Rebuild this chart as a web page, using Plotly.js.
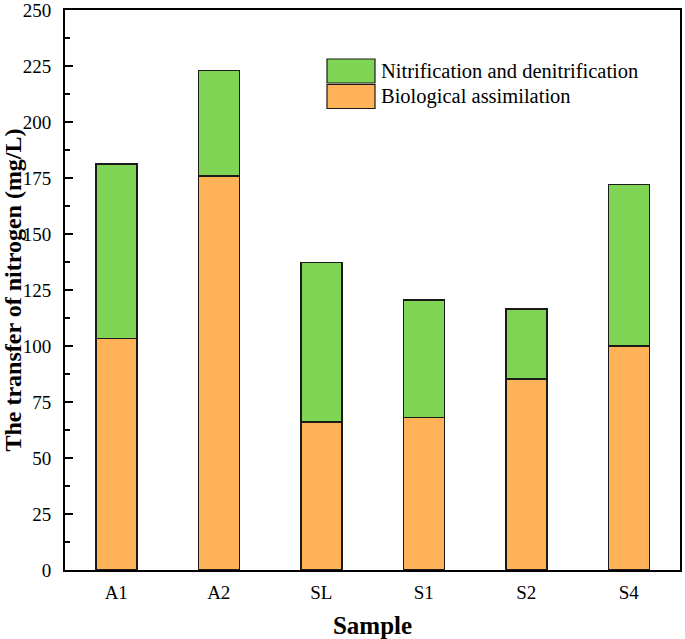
<!DOCTYPE html>
<html>
<head>
<meta charset="utf-8">
<script src="https://cdn.plot.ly/plotly-3.0.1.min.js"></script>
<style>html,body{margin:0;padding:0;background:#fff;}#chart{width:685px;height:639px;}</style>
</head>
<body>
<div id="chart"></div>
<script>
var categories = ["A1", "A2", "SL", "S1", "S2", "S4"];
var biologicalAssimilation = [103.3, 175.8, 66.0, 68.0, 85.3, 100.0];
var nitrificationDenitrification = [77.9, 47.2, 71.3, 52.6, 31.3, 72.0];
var seriesNames = ["Nitrification and denitrification", "Biological assimilation"];
var yTickValues = [0, 25, 50, 75, 100, 125, 150, 175, 200, 225, 250];

var green = "#80D453";
var orange = "#FFB257";
var font = "Liberation Serif, Times New Roman, serif";

var traces = [
  {type: "bar", name: seriesNames[1], x: categories, y: biologicalAssimilation,
   marker: {color: orange, line: {color: "#1a1a1a", width: 1.5}}, width: 0.4, showlegend: false},
  {type: "bar", name: seriesNames[0], x: categories, y: nitrificationDenitrification,
   marker: {color: green, line: {color: "#1a1a1a", width: 1.5}}, width: 0.4, showlegend: false}
];

var W = 685, H = 639;
var M = {l: 65, r: 5, t: 10, b: 69};
var PW = W - M.l - M.r, PH = H - M.t - M.b;

var legendItems = [
  {name: seriesNames[0], color: green},
  {name: seriesNames[1], color: orange}
];
var shapes = [], annotations = [];
legendItems.forEach(function(it, i){
  var top = 59 + i * 25.5;
  shapes.push({type: "rect", xref: "paper", yref: "paper",
    x0: (327 - M.l) / PW, x1: (375 - M.l) / PW,
    y0: 1 - (top + 24 - M.t) / PH, y1: 1 - (top - M.t) / PH,
    fillcolor: it.color, line: {color: "#1a1a1a", width: 1.2}});
  annotations.push({xref: "paper", yref: "paper", x: (379 - M.l) / PW, y: 1 - (top + 12 - M.t) / PH,
    xanchor: "left", yanchor: "middle", showarrow: false, text: it.name,
    font: {family: font, size: 20.5, color: "#000"}});
});

var layout = {
  width: W, height: H,
  margin: M,
  paper_bgcolor: "#fff", plot_bgcolor: "#fff",
  barmode: "stack",
  showlegend: false,
  font: {family: font, color: "#000"},
  xaxis: {
    type: "category", range: [-0.5, 5.5],
    showline: true, linecolor: "#000", linewidth: 2, mirror: true,
    ticks: "", showgrid: false, zeroline: false,
    tickfont: {family: font, size: 19, color: "#000"},
    ticklabelstandoff: 4,
    title: {text: "<b>Sample</b>", font: {family: font, size: 25, color: "#000"}, standoff: 15}
  },
  yaxis: {
    range: [0, 250], tickvals: yTickValues,
    showline: true, linecolor: "#000", linewidth: 2, mirror: true,
    ticks: "inside", ticklen: 8, tickwidth: 2, tickcolor: "#000",
    minor: {dtick: 12.5, ticks: "inside", ticklen: 5, tickwidth: 2, tickcolor: "#000"},
    showgrid: false, zeroline: false,
    tickfont: {family: font, size: 19, color: "#000"},
    ticklabelstandoff: 8,
    ticklabeloverflow: "allow",
    title: {text: "<b>The transfer of nitrogen (mg/L)</b>", font: {family: font, size: 24, color: "#000"}, standoff: 2}
  },
  shapes: shapes,
  annotations: annotations
};

Plotly.newPlot("chart", traces, layout, {displayModeBar: false, staticPlot: true});
</script>
</body>
</html>
